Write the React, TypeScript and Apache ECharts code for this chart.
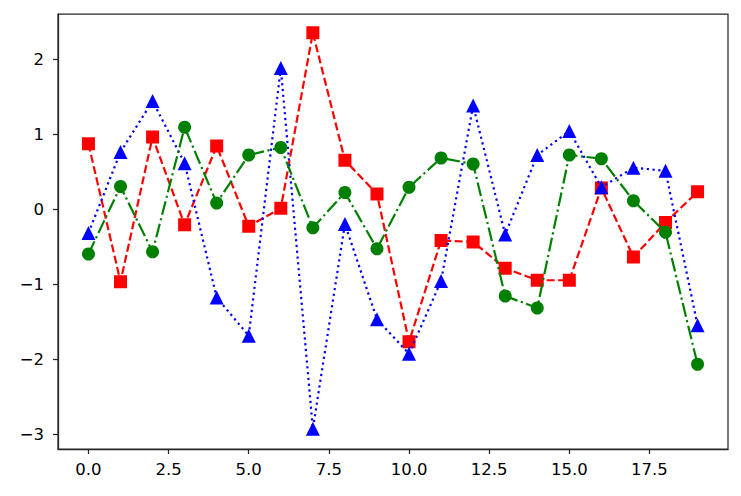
import React, { useEffect, useRef } from "react";
import * as echarts from "echarts";

const xValues = [0, 1, 2, 3, 4, 5, 6, 7, 8, 9, 10, 11, 12, 13, 14, 15, 16, 17, 18, 19];
const redSeries = [0.87, -0.97, 0.96, -0.21, 0.84, -0.23, 0.01, 2.35, 0.65, 0.2, -1.77, -0.42, -0.44, -0.79, -0.95, -0.95, 0.28, -0.64, -0.18, 0.23];
const blueSeries = [-0.32, 0.76, 1.44, 0.61, -1.18, -1.69, 1.88, -2.93, -0.2, -1.47, -1.93, -0.96, 1.38, -0.34, 0.72, 1.04, 0.29, 0.55, 0.51, -1.55];
const greenSeries = [-0.6, 0.3, -0.57, 1.09, 0.08, 0.72, 0.82, -0.25, 0.22, -0.53, 0.29, 0.68, 0.6, -1.16, -1.32, 0.72, 0.67, 0.11, -0.31, -2.07];
const xTicks = [0, 2.5, 5, 7.5, 10, 12.5, 15, 17.5];
const yTicks = [-3, -2, -1, 0, 1, 2];

const pair = (ys: number[]) => xValues.map((x, i) => [x, ys[i]]);

export default function App() {
  const ref = useRef<HTMLDivElement>(null);
  useEffect(() => {
    if (!ref.current) return;
    const chart = echarts.init(ref.current, null, { renderer: "svg" });
    const font = "DejaVu Sans";
    const axisColor = "#262626";
    const axisCommon = {
      axisLine: { show: true, onZero: false, lineStyle: { color: axisColor, width: 1.25 } },
      axisTick: { show: true, length: 5, inside: false, lineStyle: { color: axisColor, width: 1.25 } },
      splitLine: { show: false },
    };
    chart.setOption({
      animation: false,
      grid: { left: 58, top: 14, right: 13, bottom: 47, show: true, borderColor: axisColor, borderWidth: 1.25, backgroundColor: "#fff" },
      xAxis: {
        type: "value",
        min: -0.95,
        max: 19.95,
        ...axisCommon,
        axisTick: { ...axisCommon.axisTick, customValues: xTicks },
        axisLabel: {
          customValues: xTicks,
          color: "#000",
          fontFamily: font,
          fontSize: 16.5,
          margin: 12,
          formatter: (v: number) => v.toFixed(1),
        },
      },
      yAxis: {
        type: "value",
        min: -3.2,
        max: 2.6,
        ...axisCommon,
        axisTick: { ...axisCommon.axisTick, customValues: yTicks },
        axisLabel: {
          customValues: yTicks,
          color: "#000",
          fontFamily: font,
          fontSize: 16.5,
          margin: 14,
          formatter: (v: number) => (v < 0 ? "\u2212" + Math.abs(v) : String(v)),
        },
      },
      series: [
        {
          type: "line",
          data: pair(redSeries),
          symbol: "rect",
          symbolSize: 13,
          itemStyle: { color: "#ff0000" },
          lineStyle: { color: "#ff0000", width: 2.2, type: [8, 3.5] },
          z: 2,
        },
        {
          type: "line",
          data: pair(blueSeries),
          symbol: "triangle",
          symbolSize: 14,
          itemStyle: { color: "#0000ff" },
          lineStyle: { color: "#0000ff", width: 2.2, type: [2.2, 3.6] },
          z: 3,
        },
        {
          type: "line",
          data: pair(greenSeries),
          symbol: "circle",
          symbolSize: 13,
          itemStyle: { color: "#008000" },
          lineStyle: { color: "#008000", width: 2.2, type: [14, 3.5, 2.2, 3.5] },
          z: 4,
        },
      ],
    });
    return () => chart.dispose();
  }, []);
  return <div ref={ref} style={{ width: 741, height: 496, position: "absolute", left: 0, top: 0 }} />;
}
